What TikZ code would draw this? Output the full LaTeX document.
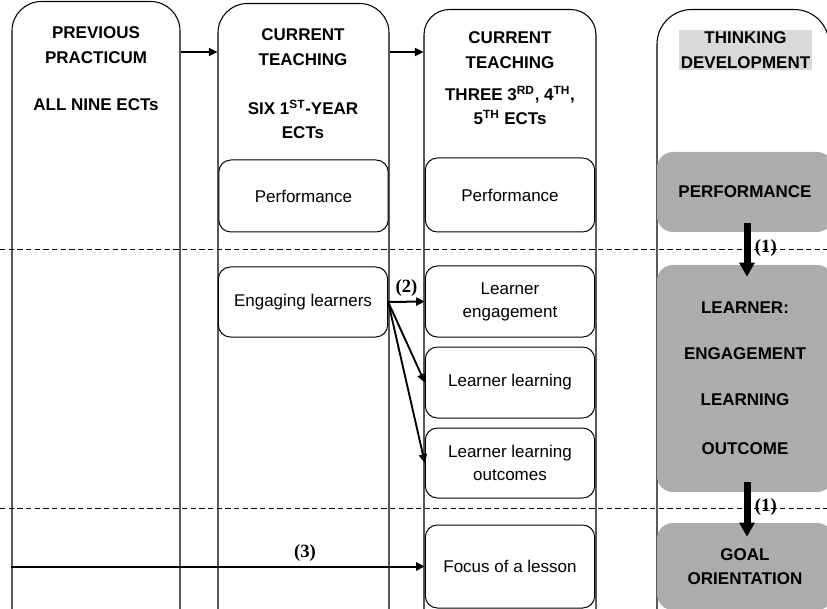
\documentclass[tikz,border=0pt]{standalone}
\usepackage{fontspec}
\setmainfont{Liberation Sans}
\newfontfamily\numfont{Liberation Serif}
\usetikzlibrary{arrows.meta,positioning}

\begin{document}
\begin{tikzpicture}[x=0.75pt, y=-0.75pt, >={Triangle[length=6.5pt,width=6pt]},
  lane/.style = {draw, line width=0.8pt, rounded corners=20pt, anchor=north, minimum height=515pt, inner sep=0pt},
  head/.style = {font=\bfseries\fontsize{12.75}{18.5}\selectfont, align=center},
  item/.style = {draw, line width=0.75pt, rounded corners=9pt, minimum width=127pt, fill=white, align=center, font=\fontsize{12.75}{17.25}\selectfont},
  phase/.style = {fill=gray!65, rounded corners=12pt, minimum width=132pt, align=center, font=\bfseries\fontsize{12.75}{18}\selectfont},
  flow/.style = {->, line width=1.5pt},
  fan/.style = {->, line width=1.4pt},
  jump/.style = {line width=5.25pt, -{Triangle[length=10.5pt,width=11pt]}},
  numtag/.style = {font=\numfont\bfseries\fontsize{14}{16}\selectfont},
  split/.style = {dash pattern=on 4pt off 2.5pt, line width=0.6pt}]
\useasboundingbox (0,0) rectangle (827,609);
\clip (0,0) rectangle (827,609);

% lanes
\node[lane, minimum width=126pt, rounded corners=22pt] (prev) at (96,1) {};
\node[lane, minimum width=128.25pt, rounded corners=22pt] (first) at (303.5,3) {};
\node[lane, minimum width=129pt, rounded corners=19pt] (later) at (510,9) {};
\node[lane, minimum width=129pt, rounded corners=26pt] (think) at (743,9) {};

% headings
\node[head] (prevT) at (96,45) {PREVIOUS\\PRACTICUM};
\node[head] (prevN) at (96,104.5) {ALL NINE ECTs};
\node[head] (firstT) at (303,47) {CURRENT\\TEACHING};
\node[head] (firstN) at (303,119.5) {SIX 1\textsuperscript{ST}-YEAR\\ECTs};
\node[head] (laterT) at (510,50) {CURRENT\\TEACHING};
\node[head] (laterN) at (510,105.5) {THREE 3\textsuperscript{RD}, 4\textsuperscript{TH},\\5\textsuperscript{TH} ECTs};
\node[head, fill=gray!30, inner sep=1pt] (thinkT) at (745.5,50) {THINKING\\DEVELOPMENT};

% separators
\draw[split] (0,249) -- (827,249);
\draw[split] (0,508) -- (827,508);

% boxes
\node[item, minimum height=54pt] (perfA) at (303.5,196) {Performance};
\node[item, minimum height=55.5pt] (perfB) at (510,195) {Performance};
\node[item, minimum height=52.5pt] (engage) at (303,302) {Engaging learners};
\node[item, minimum height=53.25pt] (lengage) at (510,301.5) {Learner\\engagement};
\node[item, minimum height=53.25pt, below=6.75pt of lengage] (llearn) {Learner learning};
\node[item, minimum height=52.5pt, below=6.75pt of llearn] (lout) {Learner learning\\outcomes};
\node[item, minimum height=62.25pt] (focus) at (510,566.5) {Focus of a lesson};

\node[phase, minimum height=60pt] (pPerf) at (745,192) {PERFORMANCE};
\node[phase, minimum height=170.25pt] (pLearn) at (745,378.5) {LEARNER:\\[16.5pt]ENGAGEMENT\\[16.5pt]LEARNING\\[19pt]OUTCOME};
\node[phase, minimum height=65.25pt] (pGoal) at (745,566.5) {GOAL\\ORIENTATION};

% arrows
\coordinate (row) at (0,52);
\draw[flow] (prev.east |- row) -- (first.west |- row);
\draw[flow] (first.east |- row) -- (later.west |- row);
\draw[flow] (engage.east) -- node[numtag, above] {(2)} (lengage.west);
\draw[fan] (engage.east) -- (llearn.west);
\draw[fan] (engage.east) -- (lout.west);
\draw[flow] (prev.west |- focus) -- node[numtag, above, pos=0.71] {(3)} (focus.west);
\draw[jump, shorten <=-6.75pt, shorten >=-9pt] ([xshift=1.5pt]pPerf.south) -- node[numtag, right] {(1)} ([xshift=1.5pt]pLearn.north);
\draw[jump, shorten <=-7.5pt, shorten >=-10.5pt] ([xshift=1.5pt]pLearn.south) -- node[numtag, right] {(1)} ([xshift=1.5pt]pGoal.north);

\end{tikzpicture}
\end{document}
